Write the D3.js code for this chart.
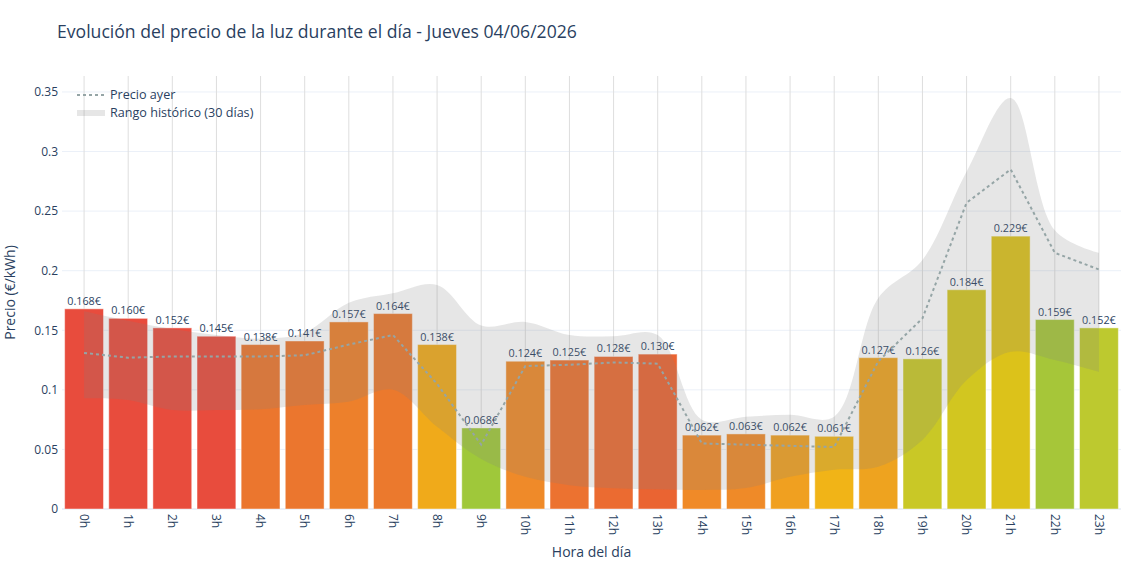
<!DOCTYPE html>
<html>
<head>
<meta charset="utf-8">
<script src="https://cdn.jsdelivr.net/npm/d3@7"></script>
<style>
  body { margin: 0; background: #fff; }
  text { font-family: "Open Sans", "Noto Sans", sans-serif; fill: #2a3f5f; }
</style>
</head>
<body>
<div id="chart"></div>
<script>
// datos del día
const hours = ['0h', '1h', '2h', '3h', '4h', '5h', '6h', '7h', '8h', '9h', '10h', '11h',
  '12h', '13h', '14h', '15h', '16h', '17h', '18h', '19h', '20h', '21h', '22h', '23h'];
const priceToday = [0.168, 0.160, 0.152, 0.145, 0.138, 0.141, 0.157, 0.164, 0.138, 0.068, 0.124, 0.125,
  0.128, 0.130, 0.062, 0.063, 0.062, 0.061, 0.127, 0.126, 0.184, 0.229, 0.159, 0.152];
const priceYesterday = [0.131, 0.127, 0.128, 0.128, 0.128, 0.129, 0.138, 0.146, 0.105, 0.054, 0.120, 0.121,
  0.123, 0.122, 0.055, 0.054, 0.053, 0.052, 0.124, 0.160, 0.257, 0.285, 0.215, 0.201];
const histMax = [0.166, 0.158, 0.151, 0.146, 0.143, 0.148, 0.173, 0.181, 0.188, 0.154, 0.157, 0.146,
  0.145, 0.146, 0.075, 0.0775, 0.079, 0.0775, 0.177, 0.209, 0.283, 0.345, 0.234, 0.215];
const histMin = [0.093, 0.0915, 0.083, 0.083, 0.0837, 0.0873, 0.090, 0.100, 0.069, 0.042, 0.027, 0.020,
  0.0174, 0.0165, 0.016, 0.0176, 0.027, 0.033, 0.0355, 0.058, 0.108, 0.132, 0.125, 0.115];
const yTicks = [0, 0.05, 0.1, 0.15, 0.2, 0.25, 0.3, 0.35];

// colores por hora
const barPalette = ['#e84c3d', '#e84c3d', '#e84c3d', '#e84c3d', '#eb762e', '#eb762e', '#ed802b', '#eb792d',
  '#f0aa1a', '#9fc83a', '#ef8a29', '#ec7230', '#eb6b31', '#ea6432', '#f08a28', '#ef8a28',
  '#f0a020', '#f1b417', '#eea31f', '#c9c826', '#d2c620', '#dcc21a', '#a6c639', '#bdc92f'];

const W = 1140, H = 570;
const margin = { top: 76, right: 19, bottom: 61, left: 62 };
const width = W - margin.left - margin.right;
const height = H - margin.top - margin.bottom;

const svg = d3.select('#chart').append('svg')
  .attr('width', W)
  .attr('height', H);

svg.append('text')
  .attr('x', 57)
  .attr('y', 38)
  .style('font-size', '17.6px')
  .text('Evolución del precio de la luz durante el día - Jueves 04/06/2026');

const g = svg.append('g')
  .attr('transform', 'translate(' + margin.left + ',' + margin.top + ')');

const x = d3.scaleBand().domain(hours).range([0, width]).paddingInner(0.12).paddingOuter(0.06);
const y = d3.scaleLinear().domain([0, 0.3634]).range([height, 0]);
const color = d3.scaleOrdinal().domain(hours).range(barPalette);
const cx = h => x(h) + x.bandwidth() / 2;

// grid horizontal
g.selectAll('.hgrid')
  .data(yTicks.filter(d => d > 0))
  .enter()
  .append('line')
  .attr('x1', 0)
  .attr('x2', width)
  .attr('y1', d => y(d))
  .attr('y2', d => y(d))
  .style('stroke', '#ebf0f8');

// grid vertical
g.selectAll('.vgrid')
  .data(hours)
  .enter()
  .append('line')
  .attr('x1', d => cx(d))
  .attr('x2', d => cx(d))
  .attr('y1', 0)
  .attr('y2', height)
  .style('stroke', '#dedede');

g.append('line')
  .attr('x1', 0)
  .attr('x2', width)
  .attr('y1', y(0))
  .attr('y2', y(0))
  .style('stroke', '#ebf0f8')
  .style('stroke-width', 2);

// barras
g.selectAll('.bar')
  .data(priceToday)
  .enter()
  .append('rect')
  .attr('x', (d, i) => x(hours[i]))
  .attr('y', d => y(d))
  .attr('width', x.bandwidth())
  .attr('height', d => y(0) - y(d))
  .style('fill', (d, i) => color(hours[i]))
  .style('stroke', 'rgba(255,255,255,0.45)')
  .style('stroke-width', 1);

g.selectAll('.barLabel')
  .data(priceToday)
  .enter()
  .append('text')
  .attr('x', (d, i) => cx(hours[i]))
  .attr('y', d => y(d) - 4)
  .attr('text-anchor', 'middle')
  .style('font-size', '10.8px')
  .text(d => d3.format('.3f')(d) + '€');

// rango histórico
const band = d3.area()
  .x((d, i) => cx(hours[i]))
  .y0((d, i) => y(histMin[i]))
  .y1(d => y(d))
  .curve(d3.curveCatmullRom.alpha(0.5));

g.append('path')
  .datum(histMax)
  .attr('d', band)
  .style('fill', 'rgba(128,128,128,0.2)');

// precio ayer
const line = d3.line()
  .x((d, i) => cx(hours[i]))
  .y(d => y(d));

g.append('path')
  .datum(priceYesterday)
  .attr('d', line)
  .style('fill', 'none')
  .style('stroke', '#95a5a6')
  .style('stroke-width', 2)
  .style('stroke-dasharray', '3,3');

// ejes
const yAxis = d3.axisLeft(y).tickValues(yTicks).tickSize(0).tickPadding(4).tickFormat(d => String(d));
const gY = g.append('g').call(yAxis);
gY.select('.domain').remove();
gY.selectAll('text').style('font-size', '12px').style('fill', '#2a3f5f');

const xAxis = d3.axisBottom(x).tickSize(0);
const gX = g.append('g')
  .attr('transform', 'translate(0,' + height + ')')
  .call(xAxis);
gX.select('.domain').remove();
gX.selectAll('text')
  .attr('transform', 'rotate(90)')
  .attr('x', 5)
  .attr('y', 0)
  .attr('dy', '0.35em')
  .attr('text-anchor', 'start')
  .style('font-size', '12px')
  .style('fill', '#2a3f5f');

svg.append('text')
  .attr('x', margin.left + width / 2)
  .attr('y', 557)
  .attr('text-anchor', 'middle')
  .style('font-size', '14px')
  .text('Hora del día');

svg.append('text')
  .attr('transform', 'translate(15,' + (margin.top + height / 2) + ') rotate(-90)')
  .attr('text-anchor', 'middle')
  .style('font-size', '14px')
  .text('Precio (€/kWh)');

// leyenda
const legend = svg.append('g').attr('transform', 'translate(77,95)');
legend.append('line')
  .attr('x1', 0).attr('x2', 28).attr('y1', 0).attr('y2', 0)
  .style('stroke', '#95a5a6').style('stroke-width', 2).style('stroke-dasharray', '3,3');
legend.append('text').attr('x', 33).attr('y', 0).attr('dy', '0.35em')
  .style('font-size', '12.6px').text('Precio ayer');
legend.append('rect')
  .attr('x', 0).attr('y', 15).attr('width', 28).attr('height', 6)
  .style('fill', 'rgba(128,128,128,0.2)');
legend.append('text').attr('x', 33).attr('y', 18).attr('dy', '0.35em')
  .style('font-size', '12.6px').text('Rango histórico (30 días)');
</script>
</body>
</html>
